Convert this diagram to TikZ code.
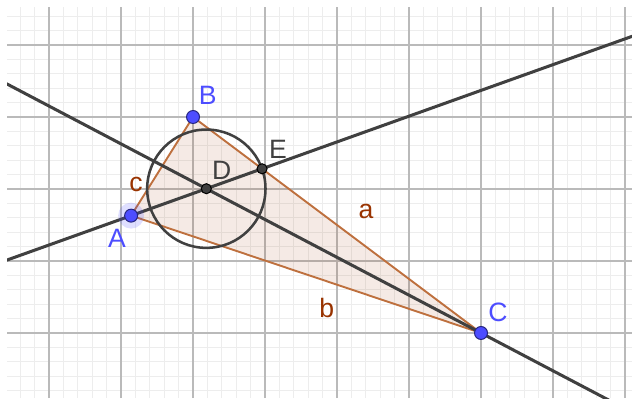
\documentclass[tikz,border=0pt]{standalone}
\usepackage{fontspec}
\setmainfont{Liberation Sans}
\usetikzlibrary{calc}
\definecolor{ggblue}{RGB}{77,77,255}
\definecolor{ggbrown}{RGB}{153,51,0}
\definecolor{ggedge}{RGB}{190,112,62}
\definecolor{ggdark}{RGB}{64,64,64}

\begin{document}
\begin{tikzpicture}[
        minorgrid/.style={draw=black!7, line width=0.3pt},
        majorgrid/.style={draw=black!27, line width=0.45pt},
        side/.style={draw=ggedge, line width=0.75pt, fill=ggbrown, fill opacity=0.1, line join=round},
        bisector/.style={draw=ggdark, line width=1.2pt},
        ring/.style={draw=ggdark, line width=1pt},
        freept/.style={circle, draw=ggblue!50!black, line width=0.4pt, fill=ggblue, inner sep=0pt, minimum size=0.18cm},
        auxpt/.style={circle, draw=black, line width=0.4pt, fill=ggdark, inner sep=0pt, minimum size=0.14cm},
        halo/.style={fill=ggblue, fill opacity=0.18},
        ptlabel/.style={text=ggblue, font=\fontsize{10.5}{12}\selectfont, inner sep=0pt},
        auxlabel/.style={text=ggdark, font=\fontsize{10.5}{12}\selectfont, inner sep=0pt},
        sidelabel/.style={text=ggbrown, font=\fontsize{10.5}{12}\selectfont, inner sep=0pt}
    ]

    % triangle, incenter D, foot E on BC
    \coordinate (A) at (-0.86,-0.37);
    \coordinate (B) at (0,1);
    \coordinate (C) at (4,-2);
    \coordinate (D) at (0.185,0.004);
    \coordinate (E) at (intersection of A--D and B--C);

    \useasboundingbox (-2.681,-2.903) rectangle (6.097,2.625);
    \draw[minorgrid] (-2.583,-2.903) grid[step=0.2] (6.097,2.528);
    \draw[majorgrid] (-2.583,-2.903) grid[step=1] (6.097,2.528);

    \begin{scope}
        \clip (-2.583,-2.903) rectangle (6.097,2.528);
        \filldraw[side] (A) -- (B) -- (C) -- cycle;
        \draw[bisector] ($(A)!-6!(D)$) -- ($(A)!10!(D)$);
        \draw[bisector] ($(C)!2!(D)$) -- ($(C)!-1!(D)$);
    \end{scope}
    \draw[ring] let \p1=($(E)-(D)$), \n1={veclen(\x1,\y1)} in (D) circle[radius=\n1];

    \fill[halo] (A) circle[radius=0.18];
    \node[freept] (ptA) at (A) {};
    \node[freept] (ptB) at (B) {};
    \node[freept] (ptC) at (C) {};
    \node[auxpt] (ptD) at (D) {};
    \node[auxpt] (ptE) at (E) {};

    \node[ptlabel] (lblA) at (-1.056,-0.681) {A};
    \node[ptlabel] (lblB) at (0.204,1.306) {B};
    \node[ptlabel] (lblC) at (4.236,-1.708) {C};
    \node[auxlabel] (lblD) at (0.4,0.264) {D};
    \node[auxlabel] (lblE) at (1.181,0.556) {E};
    \node[sidelabel] (lbla) at (2.403,-0.319) {a};
    \node[sidelabel] (lblb) at (1.856,-1.653) {b};
    \node[sidelabel] (lblc) at (-0.792,0.056) {c};

\end{tikzpicture}
\end{document}
